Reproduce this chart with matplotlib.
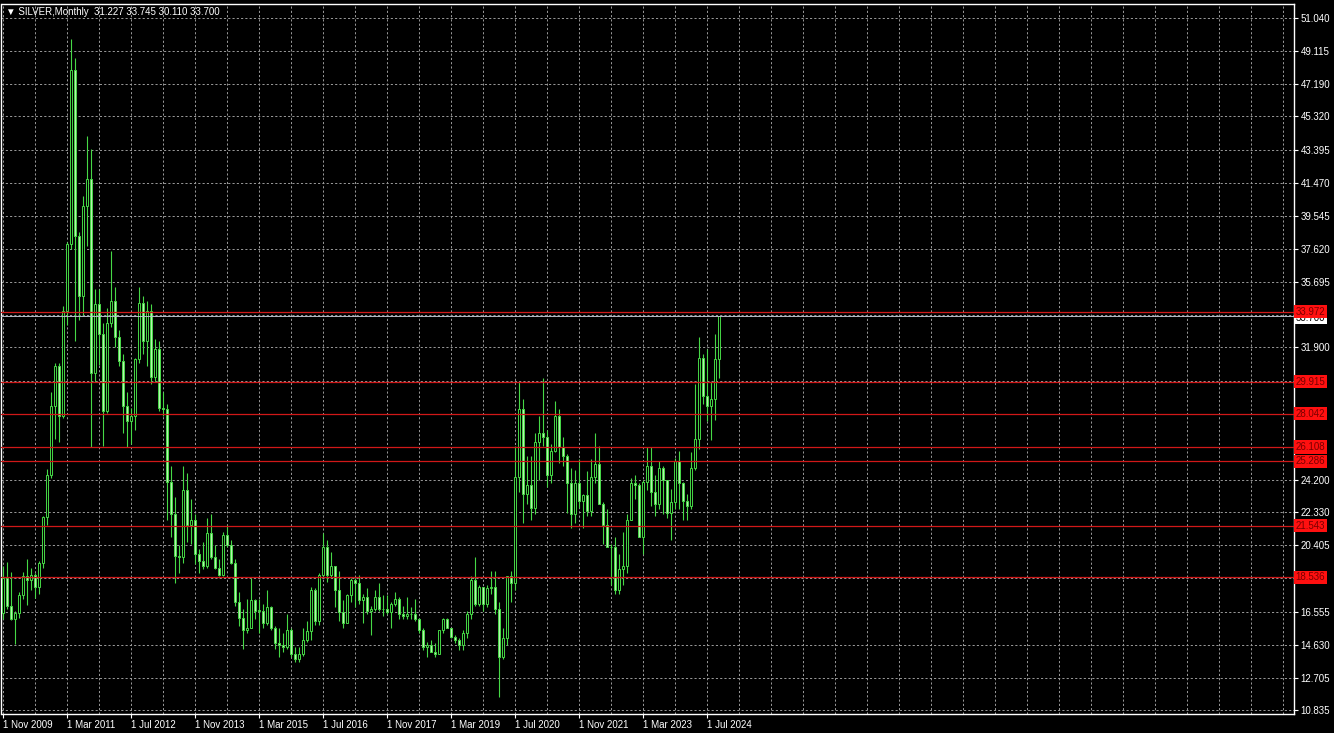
import matplotlib
matplotlib.use('Agg')
import matplotlib.pyplot as plt
import matplotlib.transforms as mtransforms
import pandas as pd

# monthly XAGUSD candles, Nov 2009 .. Oct 2024
months = pd.date_range('2009-11-01', periods=180, freq='MS')

opens = [
    16.45, 18.50,
    16.85, 16.15, 16.45, 17.50, 18.60, 18.40, 18.70, 18.00, 19.40, 22.05, 24.50, 28.50,
    30.80, 27.90, 34.00, 37.90, 48.00, 38.40, 34.90, 40.10, 41.70, 30.40, 34.40, 32.70,
    28.20, 33.30, 34.60, 32.50, 31.10, 28.50, 27.60, 27.90, 31.20, 34.50, 32.30, 34.00,
    30.20, 31.80, 28.40, 28.30, 24.10, 22.20, 19.80, 19.70, 23.60, 21.60, 21.90, 19.90,
    19.50, 19.20, 21.10, 19.70, 19.10, 18.70, 21.00, 20.40, 19.40, 17.10, 16.20, 15.50,
    15.60, 17.20, 16.60, 16.60, 15.90, 16.80, 15.60, 14.70, 14.60, 14.50, 15.50, 14.10,
    13.80, 14.10, 14.90, 15.40, 17.80, 16.00, 18.70, 20.30, 18.70, 19.20, 17.80, 16.50,
    15.90, 17.50, 18.40, 18.20, 17.20, 17.40, 16.60, 16.70, 17.40, 16.70, 16.70, 16.50,
    17.00, 17.30, 16.40, 16.30, 16.40, 16.40, 16.10, 15.50, 14.50, 14.60, 14.20, 14.10,
    15.50, 16.10, 15.60, 15.10, 14.90, 14.60, 15.30, 16.40, 18.40, 17.00, 18.00, 17.00,
    17.90, 18.00, 16.70, 13.90, 15.00, 18.60, 18.20, 24.40, 28.30, 23.40, 23.90, 22.60,
    26.40, 26.90, 26.70, 24.50, 25.90, 27.90, 26.10, 25.60, 24.00, 22.20, 24.00, 23.00,
    23.30, 22.40, 24.40, 25.10, 22.80, 21.60, 20.30, 20.30, 17.80, 19.00, 19.20, 21.90,
    24.00, 23.90, 20.90, 24.10, 25.00, 23.50, 22.80, 24.90, 24.20, 22.30, 22.90, 25.30,
    24.00, 23.00, 22.70, 24.90, 26.60, 31.30, 29.10, 28.50, 28.90, 31.227,
]
highs = [
    19.18, 19.45,
    18.85, 16.60, 17.70, 18.85, 19.60, 19.10, 18.80, 19.50, 22.10, 24.85, 29.30, 31.00,
    31.00, 34.30, 38.00, 49.80, 48.70, 38.60, 40.70, 44.20, 43.40, 35.30, 35.30, 33.30,
    34.20, 37.50, 35.40, 32.90, 31.50, 29.30, 28.40, 31.30, 35.40, 34.90, 34.60, 34.40,
    32.40, 32.30, 29.30, 28.60, 25.00, 23.20, 20.40, 25.00, 24.60, 23.10, 22.20, 20.20,
    20.60, 22.00, 22.20, 20.40, 19.60, 21.20, 21.60, 20.70, 19.60, 17.70, 16.70, 17.30,
    18.50, 17.30, 17.30, 17.00, 17.80, 16.90, 15.70, 15.60, 15.30, 16.40, 15.60, 14.50,
    14.50, 15.60, 16.00, 18.00, 17.90, 18.80, 21.10, 20.70, 20.00, 19.20, 18.90, 17.20,
    17.60, 18.50, 18.50, 18.70, 17.60, 17.90, 16.90, 17.80, 18.20, 17.50, 17.50, 17.10,
    17.70, 17.40, 16.90, 17.40, 16.80, 17.30, 16.20, 15.60, 14.80, 14.90, 14.70, 15.50,
    16.20, 16.20, 15.60, 15.20, 15.00, 15.50, 16.60, 18.60, 19.70, 18.10, 18.00, 18.10,
    18.90, 18.90, 17.10, 15.60, 18.60, 18.90, 26.20, 29.90, 28.90, 25.60, 25.60, 26.90,
    27.90, 30.10, 27.10, 26.30, 28.80, 28.30, 26.70, 25.70, 24.90, 24.80, 25.40, 23.40,
    24.70, 25.40, 26.90, 26.20, 22.90, 22.50, 20.50, 20.90, 19.90, 21.20, 22.20, 24.30,
    24.50, 24.00, 24.20, 26.10, 26.10, 24.50, 25.30, 25.00, 24.20, 23.70, 25.50, 25.90,
    24.10, 23.40, 25.80, 29.80, 32.50, 31.50, 31.80, 29.90, 32.70, 33.745,
]
lows = [
    16.10, 16.70,
    16.05, 14.65, 16.20, 17.30, 16.95, 17.80, 17.35, 17.60, 19.10, 21.60, 24.30, 26.60,
    26.40, 27.80, 33.20, 37.60, 32.30, 33.50, 33.80, 37.80, 26.10, 29.90, 30.90, 26.20,
    28.10, 33.10, 31.90, 30.80, 26.90, 26.10, 26.30, 27.10, 31.00, 31.50, 30.80, 29.80,
    29.90, 28.20, 27.90, 21.90, 20.90, 18.20, 18.80, 19.40, 20.60, 20.50, 19.30, 18.80,
    19.00, 19.10, 19.60, 19.00, 18.60, 18.60, 20.30, 19.30, 16.90, 15.70, 14.40, 15.30,
    15.60, 16.10, 15.30, 15.60, 15.80, 15.50, 14.40, 13.90, 14.20, 14.40, 13.90, 13.60,
    13.60, 14.00, 14.80, 14.90, 15.80, 15.80, 18.60, 18.30, 18.50, 16.80, 16.00, 15.60,
    15.90, 17.10, 16.80, 17.00, 15.90, 16.40, 15.20, 16.60, 16.60, 16.30, 16.40, 15.60,
    16.90, 16.10, 16.10, 16.10, 16.10, 16.00, 15.30, 14.30, 13.90, 14.20, 13.90, 14.10,
    15.30, 15.60, 15.00, 14.70, 14.30, 14.30, 15.00, 16.10, 16.90, 16.90, 16.60, 16.80,
    17.60, 16.40, 11.60, 13.80, 14.60, 17.10, 17.80, 23.50, 21.70, 22.80, 21.90, 22.20,
    24.20, 26.20, 23.80, 24.00, 25.80, 25.20, 25.00, 22.30, 21.40, 21.70, 22.60, 21.40,
    22.10, 22.10, 24.00, 22.80, 20.50, 20.30, 18.10, 17.60, 17.60, 18.10, 18.80, 21.90,
    23.10, 20.90, 19.90, 23.60, 22.70, 22.10, 22.50, 22.20, 22.00, 20.70, 22.50, 22.50,
    21.90, 21.90, 22.50, 24.80, 26.00, 28.60, 27.60, 26.50, 27.70, 30.110,
]
closes = [
    18.50, 16.85,
    16.15, 16.45, 17.50, 18.60, 18.40, 18.70, 18.00, 19.40, 22.05, 24.50, 28.50, 30.80,
    27.90, 34.00, 37.90, 48.00, 38.40, 34.90, 40.10, 41.70, 30.40, 34.40, 32.70, 28.20,
    33.30, 34.60, 32.50, 31.10, 28.50, 27.60, 27.90, 31.20, 34.50, 32.30, 34.00, 30.20,
    31.80, 28.40, 28.30, 24.10, 22.20, 19.80, 19.70, 23.60, 21.60, 21.90, 19.90, 19.50,
    19.20, 21.10, 19.70, 19.10, 18.70, 21.00, 20.40, 19.40, 17.10, 16.20, 15.50, 15.60,
    17.20, 16.60, 16.60, 15.90, 16.80, 15.60, 14.70, 14.60, 14.50, 15.50, 14.10, 13.80,
    14.10, 14.90, 15.40, 17.80, 16.00, 18.70, 20.30, 18.70, 19.20, 17.80, 16.50, 15.90,
    17.50, 18.40, 18.20, 17.20, 17.40, 16.60, 16.70, 17.40, 16.70, 16.70, 16.50, 17.00,
    17.30, 16.40, 16.30, 16.40, 16.40, 16.10, 15.50, 14.50, 14.60, 14.20, 14.10, 15.50,
    16.10, 15.60, 15.10, 14.90, 14.60, 15.30, 16.40, 18.40, 17.00, 18.00, 17.00, 17.90,
    18.00, 16.70, 13.90, 15.00, 18.60, 18.20, 24.40, 28.30, 23.40, 23.90, 22.60, 26.40,
    26.90, 26.70, 24.50, 25.90, 27.90, 26.10, 25.60, 24.00, 22.20, 24.00, 23.00, 23.30,
    22.40, 24.40, 25.10, 22.80, 21.60, 20.30, 20.30, 17.80, 19.00, 19.20, 21.90, 24.00,
    23.90, 20.90, 24.10, 25.00, 23.50, 22.80, 24.90, 24.20, 22.30, 22.90, 25.30, 24.00,
    23.00, 22.70, 24.90, 26.60, 31.30, 29.10, 28.50, 28.90, 31.20, 33.700,
]

# price scale labels shown on the right
ytick_vals = [51.040, 49.115, 47.190, 45.320, 43.395, 41.470, 39.545, 37.620, 35.695,
              31.900, 24.200, 22.330, 20.405, 16.555, 14.630, 12.705, 10.835]
hidden_grid = [33.770, 29.975, 28.050, 26.125, 18.480]

# horizontal levels drawn on the chart
levels = [33.972, 29.915, 28.042, 26.108, 25.286, 21.543, 18.536]
bid = 33.700
title = '\u25bc SILVER,Monthly  31.227 33.745 30.110 33.700'

GREEN = '#46d846'
BEAR_FILL = '#b8f0b0'
GRID = '#9a9a9a'
RED = '#d01818'
FONT = ['Liberation Sans', 'DejaVu Sans']

plt.rcParams['font.family'] = FONT

fig = plt.figure(figsize=(13.34, 7.33), dpi=100, facecolor='black')
W, H = 1334, 733
ax = fig.add_axes([1.5 / W, 1 - 713.5 / H, 1292 / W, 709.5 / H])
ax.set_facecolor('black')

x = list(range(len(closes)))
ax.vlines(x, lows, highs, color=GREEN, lw=0.8, zorder=3)
bottoms = [min(o, c) for o, c in zip(opens, closes)]
heights = [max(abs(c - o), 0.03) for o, c in zip(opens, closes)]
fills = ['black' if c >= o else BEAR_FILL for o, c in zip(opens, closes)]
ax.bar(x, heights, bottom=bottoms, width=0.5, color=fills, edgecolor=GREEN,
       linewidth=0.7, zorder=4)

# grid
for v in ytick_vals + hidden_grid:
    ax.axhline(v, color=GRID, lw=0.7, ls=(0, (2.2, 2.2)), zorder=1)
for i in range(0, 330, 8):
    ax.axvline(i, color=GRID, lw=0.7, ls=(0, (2.2, 2.2)), zorder=1)

# levels
for lv in levels:
    ax.axhline(lv, color=RED, lw=0.9, zorder=5)
ax.axhline(bid, color='#b8bcc8', lw=0.7, zorder=5)

ax.set_xlim(-0.375, 322.5)
ax.set_ylim(10.632, 51.853)

# x axis
xt = list(range(0, len(closes), 16))
ax.set_xticks(xt)
ax.set_xticklabels([f'1 {months[i]:%b %Y}' for i in xt], ha='left')
ax.tick_params(axis='x', colors='white', labelcolor='white', length=3, width=0.8,
               labelsize=7, pad=2)

# y axis on the right
ax.yaxis.tick_right()
ax.set_yticks(ytick_vals)
ax.set_yticklabels([f'{v:.3f}' for v in ytick_vals])
ax.tick_params(axis='y', colors='white', labelcolor='white', length=3, width=0.8,
               labelsize=7, pad=2)

for sp in ax.spines.values():
    sp.set_color('white')
    sp.set_linewidth(1)

trans = mtransforms.blended_transform_factory(ax.transAxes, ax.transData)
ax.text(1.0015, bid - 0.08, f'{bid:.3f}', transform=trans, fontsize=7, color='black',
        va='center', ha='left', clip_on=False, zorder=6,
        bbox=dict(facecolor='white', edgecolor='none', pad=1.2))
for lv in levels:
    ax.text(1.0015, lv, f'{lv:.3f}', transform=trans, fontsize=7, color='#7a0000',
            va='center', ha='left', clip_on=False, zorder=7,
            bbox=dict(facecolor='#ff1010', edgecolor='none', pad=1.2))

fig.text(6 / W, 1 - 12 / H, title, color='white', fontsize=7, va='center', ha='left')

fig.savefig('out.png', dpi=100, facecolor='black')
